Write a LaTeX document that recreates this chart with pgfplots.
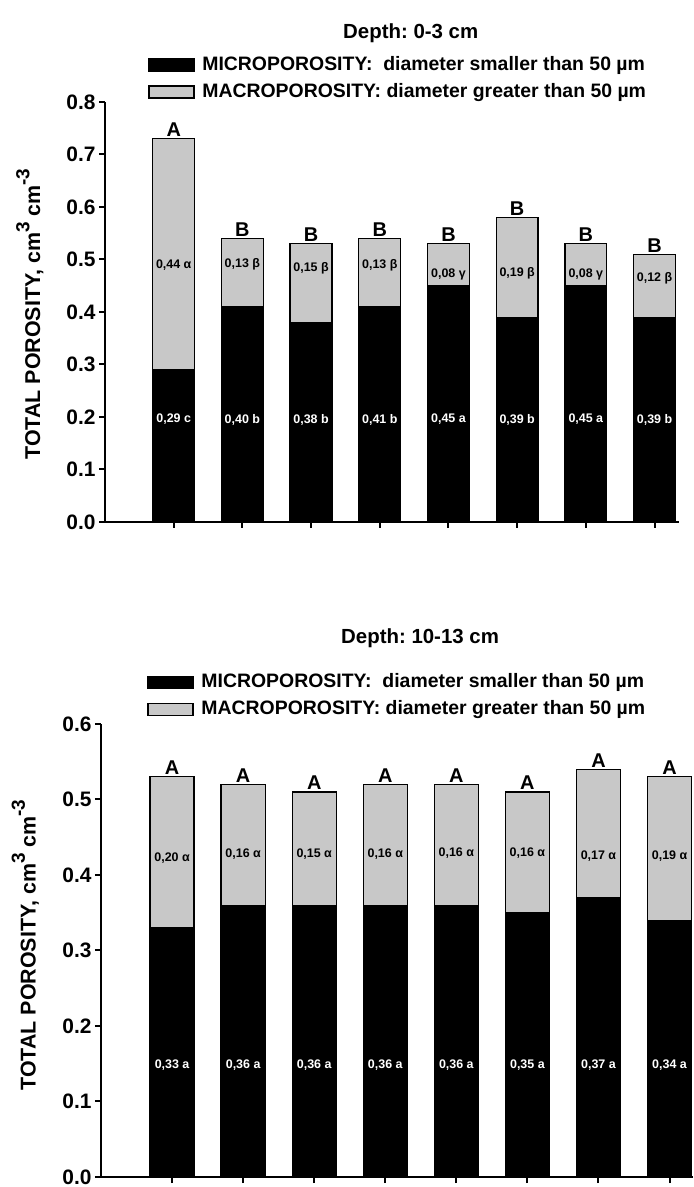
\documentclass[border=0pt]{standalone}
\usepackage{fontspec}
\setmainfont{Liberation Sans}
\usepackage{pgfplots}
\usepackage{pgfplotstable}
\pgfplotsset{compat=1.18}
\definecolor{macroGray}{HTML}{C8C8C8}
\frenchspacing

% depth 0-3 cm
\pgfplotstableread[col sep=semicolon]{
x;micro;total;grp;macy;maclab;micy;miclab
1;0.29;0.73;A;0.490;0,44 α;0.195;0,29 c
2;0.41;0.54;B;0.490;0,13 β;0.195;0,40 b
3;0.38;0.53;B;0.484;0,15 β;0.195;0,38 b
4;0.41;0.54;B;0.489;0,13 β;0.195;0,41 b
5;0.45;0.53;B;0.472;0,08 γ;0.195;0,45 a
6;0.39;0.58;B;0.474;0,19 β;0.195;0,39 b
7;0.45;0.53;B;0.472;0,08 γ;0.195;0,45 a
8;0.39;0.51;B;0.464;0,12 β;0.195;0,39 b
}\topdata

% depth 10-13 cm
\pgfplotstableread[col sep=semicolon]{
x;micro;total;grp;macy;maclab;micy;miclab
1;0.33;0.53;A;0.422;0,20 α;0.148;0,33 a
2;0.36;0.52;A;0.428;0,16 α;0.148;0,36 a
3;0.36;0.51;A;0.428;0,15 α;0.148;0,36 a
4;0.36;0.52;A;0.428;0,16 α;0.148;0,36 a
5;0.36;0.52;A;0.429;0,16 α;0.148;0,36 a
6;0.35;0.51;A;0.429;0,16 α;0.148;0,35 a
7;0.37;0.54;A;0.425;0,17 α;0.148;0,37 a
8;0.34;0.53;A;0.425;0,19 α;0.148;0,34 a
}\botdata

\newcommand{\sups}[1]{\raisebox{0.5em}{\fontsize{19}{19}\selectfont #1}}

\pgfplotsset{
  poro/.style={
    scale only axis,
    clip=false,
    xmin=0, ymin=0,
    axis lines*=left,
    axis line style={line width=2.4bp},
    tick style={line width=2bp, black},
    tick align=outside,
    major tick length=6bp,
    xtick={1,...,8}, xticklabels={},
    ytick distance=0.1,
    /pgf/number format/.cd, fixed, fixed zerofill, precision=1, assume math mode=true,
    /pgfplots/.cd,
    yticklabel style={font=\fontsize{21}{21}\selectfont\bfseries},
    ylabel={TOTAL POROSITY, cm\sups{3} cm\sups{-3}},
    ylabel style={font=\fontsize{21.5}{21.5}\selectfont\bfseries, anchor=center},
    legend cell align=left,
    legend image code/.code={\draw[#1, line width=1.6bp] (0bp,-6bp) rectangle (45bp,6bp);},
    legend style={draw=none, fill=none, inner sep=0pt, anchor=north west,
      row sep=0pt,
      nodes={inner sep=4.5bp, text height=14bp, text depth=4bp},
      font=\fontsize{19.5}{19.5}\selectfont\bfseries},
    /tikz/every odd column/.append style={column sep=3bp},
    title style={font=\fontsize{20.5}{20.5}\selectfont\bfseries, anchor=center},
  },
  totbar/.style={ybar, bar shift=0pt, bar width=#1, fill=macroGray, draw=black,
    line width=1.3bp, forget plot,
    nodes near coords, point meta=explicit symbolic,
    every node near coord/.style={anchor=south, inner sep=1.5bp,
      font=\fontsize{20}{20}\selectfont\bfseries, black}},
  micbar/.style={ybar, bar shift=0pt, bar width=#1, fill=black, draw=black,
    line width=1bp, forget plot},
  barlab/.style={draw=none, mark=none, forget plot,
    nodes near coords, point meta=explicit symbolic,
    every node near coord/.style={anchor=center, inner sep=0pt,
      font=\fontsize{12.5}{12.5}\selectfont\bfseries, #1}},
}

\begin{document}
\begin{tikzpicture}
\useasboundingbox (0,0) rectangle (694bp,1187bp);

\begin{axis}[poro,
  at={(105bp,665bp)}, anchor=south west,
  width=573.6bp, height=420bp,
  xmax=8.35, ymax=0.8,
  ylabel style={at={(rel axis cs:-0.131,0.495)}},
  title={Depth: 0-3 cm},
  title style={at={(rel axis cs:0.533,1.15)}},
  legend style={at={(rel axis cs:0.075,1.12)}},
]
\addlegendimage{fill=black, draw=black}
\addlegendentry{MICROPOROSITY:\ \ diameter smaller than 50 µm}
\addlegendimage{fill=macroGray, draw=black}
\addlegendentry{MACROPOROSITY: diameter greater than 50 µm}

\addplot[totbar=0.61] table[x=x, y=total, meta=grp] {\topdata};
\addplot[micbar=0.61] table[x=x, y=micro] {\topdata};
\addplot[barlab=black] table[x=x, y=macy, meta=maclab] {\topdata};
\addplot[barlab=white] table[x=x, y=micy, meta=miclab] {\topdata};
\end{axis}

\begin{axis}[poro,
  at={(101bp,10bp)}, anchor=south west,
  width=592bp, height=453bp,
  xmax=8.33, ymax=0.6,
  ylabel style={at={(rel axis cs:-0.128,0.512)}},
  title={Depth: 10-13 cm},
  title style={at={(rel axis cs:0.539,1.176)}},
  legend style={at={(rel axis cs:0.078,1.122)}},
]
\addlegendimage{fill=black, draw=black}
\addlegendentry{MICROPOROSITY:\ \ diameter smaller than 50 µm}
\addlegendimage{fill=macroGray, draw=black}
\addlegendentry{MACROPOROSITY: diameter greater than 50 µm}

\addplot[totbar=0.62] table[x=x, y=total, meta=grp] {\botdata};
\addplot[micbar=0.62] table[x=x, y=micro] {\botdata};
\addplot[barlab=black] table[x=x, y=macy, meta=maclab] {\botdata};
\addplot[barlab=white] table[x=x, y=micy, meta=miclab] {\botdata};
\end{axis}
\end{tikzpicture}
\end{document}
